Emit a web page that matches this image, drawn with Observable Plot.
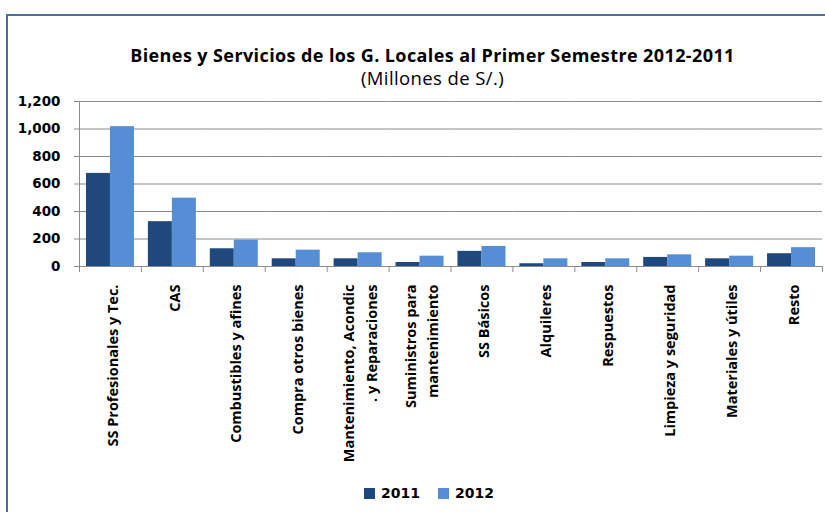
<!DOCTYPE html>
<html>
<head>
<meta charset="utf-8">
<script src="https://cdn.jsdelivr.net/npm/d3@7"></script>
<script src="https://cdn.jsdelivr.net/npm/@observablehq/plot@0.6"></script>
<style>
  html, body { margin: 0; padding: 0; background: #fff; }
  #wrap { position: relative; width: 825px; height: 512px; overflow: hidden; background: #fff; }
  #border { position: absolute; left: 6px; top: 14px; width: 900px; height: 600px;
            border-left: 2px solid #4a6e9e; border-top: 2px solid #4a6e9e; }
  #title { position: absolute; left: 0; top: 45px; width: 865px; text-align: center; letter-spacing: 0.4px;
           font-family: "Open Sans", sans-serif; font-weight: bold; font-size: 18px; line-height: 20px; color: #000; }
  #subtitle { position: absolute; left: 0; top: 68px; width: 865px; text-align: center; letter-spacing: 0.4px;
           font-family: "Open Sans", sans-serif; font-size: 18.5px; line-height: 20px; color: #000; }
  #chart { position: absolute; left: 0; top: 92px; width: 825px; height: 385px; }
  #chart svg { max-width: none !important; width: 825px; height: 385px; display: block; }
  #legend { position: absolute; left: 364px; top: 484px; height: 18px; display: flex; align-items: center;
            font-family: "DejaVu Sans", sans-serif; font-weight: bold; font-size: 14px; line-height: 18px; color: #000; }
  #legend .sw { display: inline-block; width: 11px; height: 11px; margin-right: 6px; }
  #legend .item { display: flex; align-items: center; margin-right: 18px; }
</style>
</head>
<body>
<div id="wrap">
  <div id="border"></div>
  <div id="title">Bienes y Servicios de los G. Locales al Primer Semestre 2012-2011</div>
  <div id="subtitle">(Millones de S/.)</div>
  <div id="chart"></div>
  <div id="legend"></div>
</div>
<script>
const categories = [
  "SS Profesionales y Tec.",
  "CAS",
  "Combustibles y afines",
  "Compra otros bienes",
  "Mantenimiento, Acondic\n. y Reparaciones",
  "Suministros para\nmantenimiento",
  "SS Básicos",
  "Alquileres",
  "Respuestos",
  "Limpieza y seguridad",
  "Materiales y útiles",
  "Resto"
];
const years = ["2011", "2012"];
const values2011 = [677, 326, 129, 56, 56, 29, 110, 20, 29, 66, 56, 93];
const values2012 = [1017, 497, 192, 119, 100, 75, 146, 56, 56, 85, 75, 137];
const yTicks = [0, 200, 400, 600, 800, 1000, 1200];
const colors = ["#1f497d", "#558ed5"];

const table = categories.flatMap((c, i) => [
  {cat: c, year: years[0], value: values2011[i]},
  {cat: c, year: years[1], value: values2012[i]}
]);

const gridColor = "#8c8c8c";

const chart = Plot.plot({
  width: 825,
  height: 385,
  marginTop: 9,
  marginRight: 3,
  marginBottom: 211,
  marginLeft: 79,
  facet: {marginTop: 0, marginRight: 0, marginBottom: 0, marginLeft: 0},
  style: {fontFamily: "'Open Sans', sans-serif", fontWeight: "bold", background: "transparent", color: "#000"},
  fx: {domain: categories, padding: 0, round: false, label: null},
  x: {domain: years, paddingInner: 0, paddingOuter: 0.29, round: false, axis: null},
  y: {domain: [0, 1200], label: null},
  color: {domain: years, range: colors},
  marks: [
    Plot.gridY(yTicks, {stroke: gridColor, strokeOpacity: 1, strokeWidth: 1}),
    Plot.barY(table, {fx: "cat", x: "year", y: "value", fill: "year"}),
    Plot.ruleY([0], {stroke: gridColor}),
    Plot.frame({anchor: "left", stroke: gridColor, strokeOpacity: 1, insetBottom: -5, facetAnchor: "left"}),
    Plot.frame({anchor: "right", stroke: gridColor, strokeOpacity: 1, insetTop: 165, insetBottom: -5}),
    Plot.axisY(yTicks, {anchor: "left", tickSize: 5, tickPadding: 14, tickFormat: d3.format(","), fontSize: 13.5, fontWeight: "bold",
      fontFamily: "DejaVu Sans, sans-serif", stroke: gridColor, fill: "#000", label: null}),
    Plot.axisFx({anchor: "bottom", tickSize: 0, tickPadding: 18, tickRotate: -90, fontSize: 14.5, fontWeight: "bold",
      lineHeight: 1.55, fill: "#000", label: null})
  ]
});
document.getElementById("chart").appendChild(chart);

const legend = document.getElementById("legend");
years.forEach((y, i) => {
  const item = document.createElement("span");
  item.className = "item";
  const sw = document.createElement("span");
  sw.className = "sw";
  sw.style.background = colors[i];
  item.appendChild(sw);
  item.appendChild(document.createTextNode(y));
  legend.appendChild(item);
});
</script>
</body>
</html>
